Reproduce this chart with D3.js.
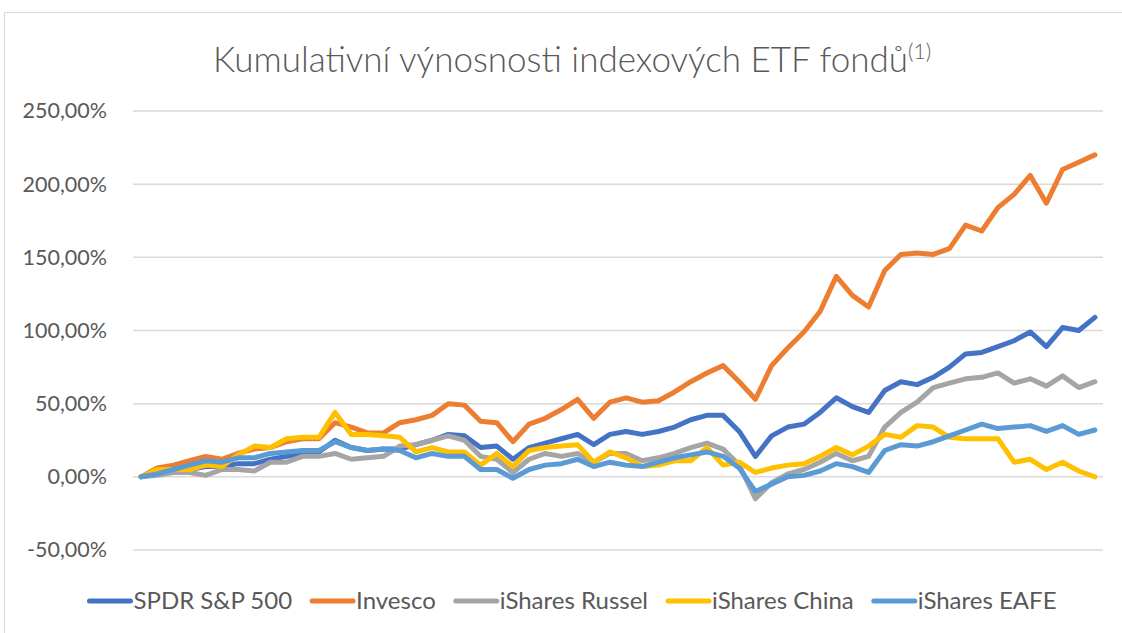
<!DOCTYPE html>
<html lang="cs">
<head>
<meta charset="utf-8">
<title>Kumulativní výnosnosti</title>
<script src="https://cdn.jsdelivr.net/npm/d3@7"></script>
<style>
  body { margin: 0; background: #fff; }
  text { font-family: Lato, "Open Sans", sans-serif; fill: #595959; }
</style>
</head>
<body>
<script>
// monthly periods (no labels shown on the x axis)
var periods = d3.range(1, 61);

// cumulative returns in %
var spdr = [0, 2, 4, 5, 7, 7, 9, 9, 12, 14, 16, 17, 25, 20, 18, 19, 19, 22, 25, 29,
            28, 20, 21, 12, 20, 23, 26, 29, 22, 29, 31, 29, 31, 34, 39, 42, 42, 31, 14, 28,
            34, 36, 44, 54, 48, 44, 59, 65, 63, 68, 75, 84, 85, 89, 93, 99, 89, 102, 100, 109];
var invesco = [0, 6, 8, 11, 14, 12, 16, 19, 20, 24, 26, 26, 37, 34, 30, 30, 37, 39, 42, 50,
               49, 38, 37, 24, 36, 40, 46, 53, 40, 51, 54, 51, 52, 58, 65, 71, 76, 65, 53, 76,
               88, 99, 113, 137, 124, 116, 141, 152, 153, 152, 156, 172, 168, 184, 193, 206, 187, 210, 215, 220];
var russel = [0, 1, 3, 3, 1, 5, 5, 4, 10, 10, 14, 14, 16, 12, 13, 14, 21, 22, 25, 28,
              25, 14, 12, 3, 12, 16, 14, 16, 10, 16, 16, 11, 13, 16, 20, 23, 19, 8, -15, -4,
              2, 5, 10, 16, 11, 14, 34, 44, 51, 61, 64, 67, 68, 71, 64, 67, 62, 69, 61, 65];
var china = [0, 5, 5, 5, 8, 7, 15, 21, 20, 26, 27, 27, 44, 29, 29, 28, 27, 17, 20, 17,
             17, 8, 16, 7, 18, 20, 21, 22, 10, 17, 13, 7, 8, 11, 11, 20, 8, 10, 3, 6,
             8, 9, 14, 20, 15, 21, 29, 27, 35, 34, 27, 26, 26, 26, 10, 12, 5, 10, 4, 0];
var eafe = [0, 2, 5, 8, 11, 10, 13, 13, 16, 17, 18, 18, 24, 20, 18, 19, 18, 13, 16, 14,
            14, 5, 5, -1, 5, 8, 9, 12, 7, 10, 8, 7, 10, 13, 15, 17, 14, 6, -10, -5,
            0, 1, 4, 9, 7, 3, 18, 22, 21, 24, 28, 32, 36, 33, 34, 35, 31, 35, 29, 32];

var seriesNames = ["SPDR S&P 500", "Invesco", "iShares Russel", "iShares China", "iShares EAFE"];
var seriesValues = [spdr, invesco, russel, china, eafe];
var colors = ["#4472C4", "#ED7D31", "#A5A5A5", "#FFC000", "#5B9BD5"];
var yTicks = [-50, 0, 50, 100, 150, 200, 250];

var w = 1122, h = 633;
var plotLeft = 133, plotRight = 1103, plotTop = 111, plotBottom = 550;
var center = 572;

var svg = d3.select("body").append("svg")
  .attr("width", w)
  .attr("height", h);

// chart border
svg.append("rect")
  .attr("x", 4.5).attr("y", 12.5)
  .attr("width", 1140).attr("height", 640)
  .attr("fill", "#fff")
  .attr("stroke", "#d9d9d9");

var x = d3.scalePoint()
  .domain(periods)
  .range([plotLeft, plotRight])
  .padding(0.5);

var y = d3.scaleLinear()
  .domain([-50, 250])
  .range([plotBottom, plotTop]);

// gridlines
svg.append("g")
  .selectAll("line")
  .data(yTicks)
  .enter()
  .append("line")
  .attr("x1", plotLeft).attr("x2", plotRight)
  .attr("y1", function(d) { return y(d); })
  .attr("y2", function(d) { return y(d); })
  .attr("stroke", "#d9d9d9")
  .attr("stroke-width", 1.5);

// y axis labels
var yAxis = d3.axisLeft(y)
  .tickValues(yTicks)
  .tickSize(0)
  .tickPadding(26)
  .tickFormat(function(d) { return d.toFixed(2).replace(".", ",") + "%"; });

var ga = svg.append("g")
  .attr("transform", "translate(" + plotLeft + ",0)")
  .call(yAxis);
ga.select(".domain").remove();
ga.selectAll("text")
  .style("font-family", "Lato, sans-serif")
  .style("font-size", "21.5px")
  .attr("fill", "#595959");

// lines
var line = d3.line()
  .x(function(d, i) { return x(periods[i]); })
  .y(function(d) { return y(d); });

svg.append("g")
  .selectAll("path")
  .data(seriesValues)
  .enter()
  .append("path")
  .attr("d", line)
  .attr("fill", "none")
  .attr("stroke", function(d, i) { return colors[i]; })
  .attr("stroke-width", 5)
  .attr("stroke-linejoin", "round")
  .attr("stroke-linecap", "round");

// title, with the superscript
var title = svg.append("text")
  .attr("x", center)
  .attr("y", 72)
  .attr("text-anchor", "middle")
  .style("font-size", "35px")
  .style("font-weight", 300);
title.append("tspan").text("Kumulativní výnosnosti indexových ETF fondů");
title.append("tspan")
  .attr("dy", -13)
  .style("font-size", "21px")
  .text("(1)");

// legend
var legend = svg.append("g");
var items = legend.selectAll("g")
  .data(seriesNames)
  .enter()
  .append("g");
items.append("line")
  .attr("x1", 2).attr("x2", 43)
  .attr("y1", 0).attr("y2", 0)
  .attr("stroke", function(d, i) { return colors[i]; })
  .attr("stroke-width", 5)
  .attr("stroke-linecap", "round");
items.append("text")
  .attr("x", 46)
  .attr("y", 8)
  .style("font-size", "24px")
  .text(function(d) { return d; });

var pos = 0, gap = 18;
items.each(function() {
  var g = d3.select(this);
  g.attr("data-x", pos);
  pos += 46 + g.select("text").node().getComputedTextLength() + gap;
});
var total = pos - gap;
items.attr("transform", function() {
  return "translate(" + (center - total / 2 + (+this.getAttribute("data-x"))) + ",601)";
});
</script>
</body>
</html>
